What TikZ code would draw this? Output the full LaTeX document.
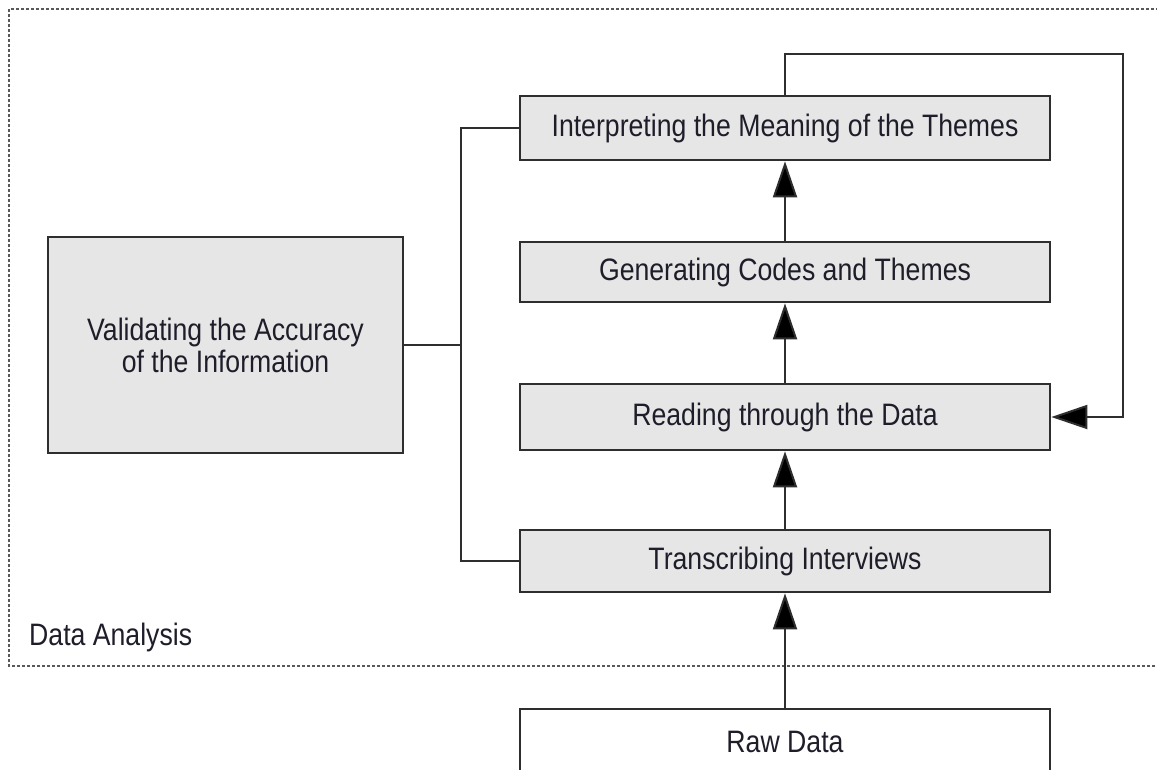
\documentclass[tikz,border=0pt]{standalone}
\usepackage{fontspec}
\setmainfont{Liberation Sans}[FakeStretch=0.86]
\usetikzlibrary{arrows.meta}
\definecolor{boxfill}{HTML}{E6E6E6}
\definecolor{edge}{HTML}{2E2E2E}
\definecolor{txt}{HTML}{1E1E2A}
\tikzset{
  stepbox/.style={draw=edge, line width=2.6pt, fill=boxfill, minimum width=530pt, inner sep=0pt, text=txt, font=\fontsize{31}{32}\selectfont},
  conn/.style={draw=edge, line width=2pt},
  arr/.style={conn, -{Triangle[length=36pt,width=24pt,fill=black]}},
}
\begin{document}
\begin{tikzpicture}[x=1pt,y=-1pt]
\useasboundingbox (0,0) rectangle (1157,769);
\fill[white] (0,0) rectangle (1157,769);
\draw[gray!70!black, line width=1.4pt, dash pattern=on 3pt off 2pt] (1170,666) -- (9,666) -- (9,9) -- (1170,9);
\node[anchor=west, text=txt, font=\fontsize{31}{32}\selectfont, inner sep=0pt] (lbl) at (29,637) {Data Analysis};
\node[stepbox, minimum height=64pt] (interp) at (785,128) {Interpreting the Meaning of the Themes};
\node[stepbox, minimum height=60pt] (gen) at (785,272) {Generating Codes and Themes};
\node[stepbox, minimum height=66pt] (read) at (785,417) {Reading through the Data};
\node[stepbox, minimum height=62pt] (trans) at (785,561) {Transcribing Interviews};
\node[stepbox, fill=white, minimum height=66pt] (raw) at (785,742) {Raw Data};
\node[stepbox, minimum width=355pt, minimum height=216pt, align=center, font=\fontsize{31}{32}\selectfont] (valid) at (225.5,345) {Validating the Accuracy\\of the Information};
\coordinate (bus) at (461,345);
\draw[conn] (interp.west) -| (bus) |- (trans.west);
\draw[conn] (valid.east) -- (bus);
\draw[arr] (raw.north) -- (trans.south);
\draw[arr] (trans.north) -- (read.south);
\draw[arr] (read.north) -- (gen.south);
\draw[arr] (gen.north) -- (interp.south);
\coordinate (fbtop) at (1123,54);
\draw[arr] (interp.north) -- (interp.north |- fbtop) -- (fbtop) |- (read.east);
\end{tikzpicture}
\end{document}
